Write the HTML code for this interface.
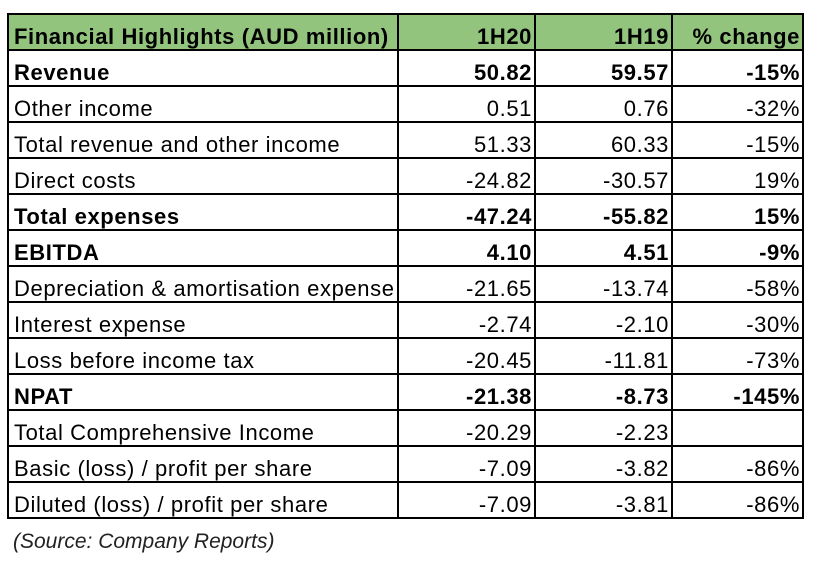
<!DOCTYPE html>
<html><head><style>
body{margin:0;background:#fff;width:820px;height:563px;position:relative;font-family:"Liberation Sans",sans-serif;}
table{position:absolute;left:7px;top:13px;border-collapse:collapse;table-layout:fixed;width:795px}
td{border:2px solid #000;height:36px;padding:0 2px 0 5px;font-size:22px;letter-spacing:0.6px;line-height:22px;vertical-align:bottom;padding-bottom:1px;box-sizing:border-box;white-space:nowrap;overflow:visible;color:#000}
td.n{text-align:right;padding-right:2px}
tr.h td{background:#93c47d;font-weight:bold}
tr.b td{font-weight:bold}
.src{position:absolute;left:13px;top:530px;font-size:21px;font-style:italic;color:#222}
</style></head><body>
<table>
<col style="width:390px"><col style="width:137px"><col style="width:137px"><col style="width:131px">
<tr class="h"><td>Financial Highlights (AUD million)</td><td class="n">1H20</td><td class="n">1H19</td><td class="n">% change</td></tr>
<tr class="b"><td>Revenue</td><td class="n">50.82</td><td class="n">59.57</td><td class="n">-15%</td></tr>
<tr><td>Other income</td><td class="n">0.51</td><td class="n">0.76</td><td class="n">-32%</td></tr>
<tr><td>Total revenue and other income</td><td class="n">51.33</td><td class="n">60.33</td><td class="n">-15%</td></tr>
<tr><td>Direct costs</td><td class="n">-24.82</td><td class="n">-30.57</td><td class="n">19%</td></tr>
<tr class="b"><td>Total expenses</td><td class="n">-47.24</td><td class="n">-55.82</td><td class="n">15%</td></tr>
<tr class="b"><td>EBITDA</td><td class="n">4.10</td><td class="n">4.51</td><td class="n">-9%</td></tr>
<tr><td>Depreciation &amp; amortisation expense</td><td class="n">-21.65</td><td class="n">-13.74</td><td class="n">-58%</td></tr>
<tr><td>Interest expense</td><td class="n">-2.74</td><td class="n">-2.10</td><td class="n">-30%</td></tr>
<tr><td>Loss before income tax</td><td class="n">-20.45</td><td class="n">-11.81</td><td class="n">-73%</td></tr>
<tr class="b"><td>NPAT</td><td class="n">-21.38</td><td class="n">-8.73</td><td class="n">-145%</td></tr>
<tr><td>Total Comprehensive Income</td><td class="n">-20.29</td><td class="n">-2.23</td><td class="n"></td></tr>
<tr><td>Basic (loss) / profit per share</td><td class="n">-7.09</td><td class="n">-3.82</td><td class="n">-86%</td></tr>
<tr><td>Diluted (loss) / profit per share</td><td class="n">-7.09</td><td class="n">-3.81</td><td class="n">-86%</td></tr>
</table>
<div class="src">(Source: Company Reports)</div>
</body></html>
